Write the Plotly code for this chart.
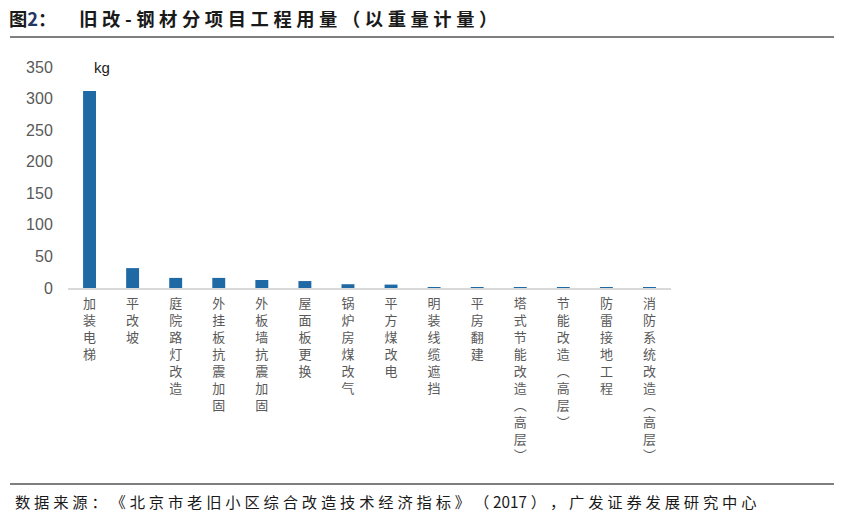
import plotly.graph_objects as go

categories = ["加装电梯", "平改坡", "庭院路灯改造", "外挂板抗震加固", "外板墙抗震加固",
              "屋面板更换", "锅炉房煤改气", "平方煤改电", "明装线缆遮挡", "平房翻建",
              "塔式节能改造（高层）", "节能改造（高层）", "防雷接地工程", "消防系统改造（高层）"]
values = [312, 31.5, 16, 16, 12.7, 11, 6, 5.4, 1.2, 1.0, 0.4, 0.4, 0.4, 0.4]
y_ticks = [0, 50, 100, 150, 200, 250, 300, 350]

OFF = 8  # page body margin
W, H = 847 - OFF, 524 - OFF
L = 68 - OFF
T = 67 - OFF
R = W - (671 - OFF)
B = H - (288 - OFF)

def vert(s):
    s = s.replace("（", "︵").replace("）", "︶")
    return "<br>".join(list(s))

def spaced(s, sep="\u2005"):
    out = []
    buf = ""
    for ch in s:
        if ch.isdigit():
            buf += ch
            continue
        if buf:
            out.append(buf)
            buf = ""
        out.append(ch)
    if buf:
        out.append(buf)
    return sep.join(out)

fig = go.Figure(go.Bar(
    x=list(range(len(categories))), y=values,
    marker=dict(color="#1F6AA5", line=dict(width=0)),
    width=0.3,
))

pw = W - L - R
ph = H - T - B
def px_x(x): return (x - OFF - L) / pw
def px_y(y): return (H - B - (y - OFF)) / ph

title_txt = ("<b>图<span style='color:#1F3864'>2</span>：\u2002\u2002\u2005"
             + spaced("旧改-钢材分项目工程用量（以重量计量）") + "</b>")
source_txt = spaced("数据来源：《北京市老旧小区综合改造技术经济指标》（2017），广发证券发展研究中心")

fig.update_layout(
    width=W, height=H,
    margin=dict(l=L, r=R, t=T, b=B),
    plot_bgcolor="white", paper_bgcolor="white",
    showlegend=False,
    font=dict(family="Noto Sans CJK SC", color="#595959"),
    title=dict(text=title_txt, xref="container", yref="container",
               x=(9 - OFF) / W, y=1 - (20 - OFF) / H, xanchor="left", yanchor="middle",
               font=dict(size=18.3, color="#1a1a1a", family="Noto Sans CJK SC")),
    xaxis=dict(
        tickmode="array", tickvals=list(range(len(categories))),
        ticktext=[vert(c) for c in categories],
        tickangle=0, range=[-0.5, len(categories) - 0.5],
        showline=True, linecolor="#D9D9D9", linewidth=1.5,
        ticks="outside", ticklen=3, tickcolor="rgba(0,0,0,0)",
        showgrid=False, zeroline=False,
        tickfont=dict(size=13, color="#595959", family="Noto Sans CJK SC"),
    ),
    yaxis=dict(
        range=[0, 350], tickvals=y_ticks, showgrid=False, zeroline=False,
        showline=False, ticks="outside", ticklen=11, tickcolor="rgba(0,0,0,0)",
        tickfont=dict(size=16, color="#595959", family="Arial, Liberation Sans"),
    ),
    annotations=[
        dict(text="kg", x=px_x(102), y=px_y(67), xref="paper", yref="paper",
             showarrow=False, font=dict(size=15, color="#1a1a1a", family="Arial, Liberation Sans"),
             xanchor="center", yanchor="middle"),
        dict(text=source_txt,
             x=px_x(13), y=px_y(501), xref="paper", yref="paper", showarrow=False,
             font=dict(size=15.3, color="#1a1a1a", family="Noto Sans CJK SC"),
             xanchor="left", yanchor="middle"),
    ],
    shapes=[
        dict(type="line", xref="paper", yref="paper", x0=px_x(10), x1=px_x(834),
             y0=px_y(37), y1=px_y(37), line=dict(color="#000000", width=1.2)),
        dict(type="line", xref="paper", yref="paper", x0=px_x(10), x1=px_x(834),
             y0=px_y(484), y1=px_y(484), line=dict(color="#000000", width=1.2)),
    ],
)

fig.write_html("out.html")
